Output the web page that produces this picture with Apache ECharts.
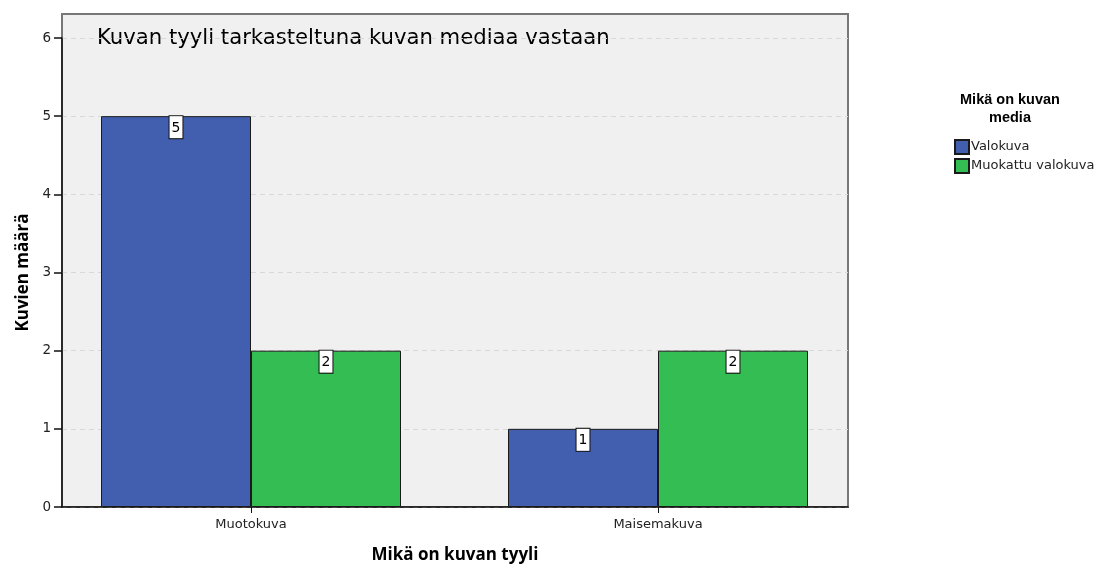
<!DOCTYPE html>
<html>
<head>
<meta charset="utf-8">
<script src="https://cdn.jsdelivr.net/npm/echarts@6/dist/echarts.min.js"></script>
<style>
html, body { margin: 0; padding: 0; background: #fff; }
#chart { width: 1103px; height: 569px; }
</style>
</head>
<body>
<div id="chart"></div>
<script>
// data
const categories = ['Muotokuva', 'Maisemakuva'];
const seriesNames = ['Valokuva', 'Muokattu valokuva'];
const valokuva = [5, 1];
const muokattu = [2, 2];
const yMin = 0;
const yMax = 6;
const yStep = 1;

const font = "'Liberation Sans', Arial, sans-serif";
const smallFont = "'DejaVu Sans', sans-serif";
const titleFont = "'Open Sans', sans-serif";
const blue = '#425eaf';
const green = '#33bd52';

const myChart = echarts.init(document.getElementById('chart'));

const dataLabel = {
    show: true,
    position: 'insideTop',
    distance: 0,
    color: '#000',
    fontFamily: smallFont,
    fontSize: 14,
    backgroundColor: '#fff',
    borderColor: '#111',
    borderWidth: 1,
    padding: [5, 2, 3, 2]
};

const option = {
    animation: false,
    textStyle: { fontFamily: font },
    // 0: frame, 1: y axis + gridlines, 2: bars
    grid: [
        { left: 62, top: 14, width: 786, height: 493, show: true, backgroundColor: '#f0f0f0', borderColor: '#777', borderWidth: 2 },
        { left: 62, top: 38, width: 786, height: 469 },
        { left: 47.5, top: 38, width: 814, height: 469 }
    ],
    xAxis: [
        { gridIndex: 0, type: 'category', data: categories, show: false },
        {
            gridIndex: 1, type: 'category', data: categories,
            axisLine: { show: true, lineStyle: { color: '#111', width: 1.5 } },
            axisTick: { show: false },
            axisLabel: { show: false },
            name: 'Mikä on kuvan tyyli',
            nameLocation: 'middle',
            nameGap: 40,
            nameTextStyle: { fontSize: 17, fontWeight: 'bold', color: '#000', fontFamily: titleFont }
        },
        {
            gridIndex: 2, type: 'category', data: categories,
            axisLine: { show: false },
            axisTick: { show: true, alignWithLabel: true, length: 6, lineStyle: { color: '#111' } },
            axisLabel: { margin: 11, fontSize: 13, color: '#222', fontFamily: smallFont }
        }
    ],
    yAxis: [
        { gridIndex: 0, type: 'value', show: false },
        {
            gridIndex: 1, type: 'value', min: yMin, max: yMax, interval: yStep,
            axisLine: { show: true, lineStyle: { color: '#111', width: 1.5 } },
            axisTick: { show: true, length: 8, lineStyle: { color: '#111', width: 1.5 } },
            axisLabel: { margin: 11, fontSize: 13.5, color: '#222', fontFamily: smallFont },
            splitLine: { show: true, lineStyle: { color: '#d8d8d8', type: [5, 4] } },
            name: 'Kuvien määrä',
            nameLocation: 'middle',
            nameGap: 30,
            nameTextStyle: { fontSize: 17, fontWeight: 'bold', color: '#000', fontFamily: titleFont }
        },
        { gridIndex: 2, type: 'value', min: yMin, max: yMax, interval: yStep, show: false }
    ],
    legend: {
        orient: 'vertical',
        left: 949,
        top: 134,
        icon: 'rect',
        itemWidth: 14,
        itemHeight: 14,
        itemGap: 3,
        data: seriesNames,
        textStyle: { fontSize: 13, lineHeight: 14, color: '#222', fontFamily: smallFont, padding: [0, 0, 0, -3] }
    },
    graphic: [
        {
            type: 'text', left: 97, top: 28,
            style: { text: 'Kuvan tyyli tarkasteltuna kuvan mediaa vastaan', fill: '#000', font: '21.2px ' + smallFont }
        },
        {
            type: 'text', x: 1010, y: 91,
            style: { text: 'Mikä on kuvan\nmedia', fill: '#000', font: 'bold 14.5px ' + font, lineHeight: 18, align: 'center' }
        }
    ],
    series: [
        {
            name: seriesNames[0], type: 'bar', xAxisIndex: 2, yAxisIndex: 2,
            data: valokuva, barWidth: 150, barGap: '0%',
            itemStyle: { color: blue, borderColor: '#1a1a1a', borderWidth: 1 },
            label: dataLabel
        },
        {
            name: seriesNames[1], type: 'bar', xAxisIndex: 2, yAxisIndex: 2,
            data: muokattu, barWidth: 150, barGap: '0%',
            itemStyle: { color: green, borderColor: '#1a1a1a', borderWidth: 1 },
            label: dataLabel
        }
    ]
};

myChart.setOption(option);
window.addEventListener('resize', () => {
    myChart.resize();
});
</script>
</body>
</html>
